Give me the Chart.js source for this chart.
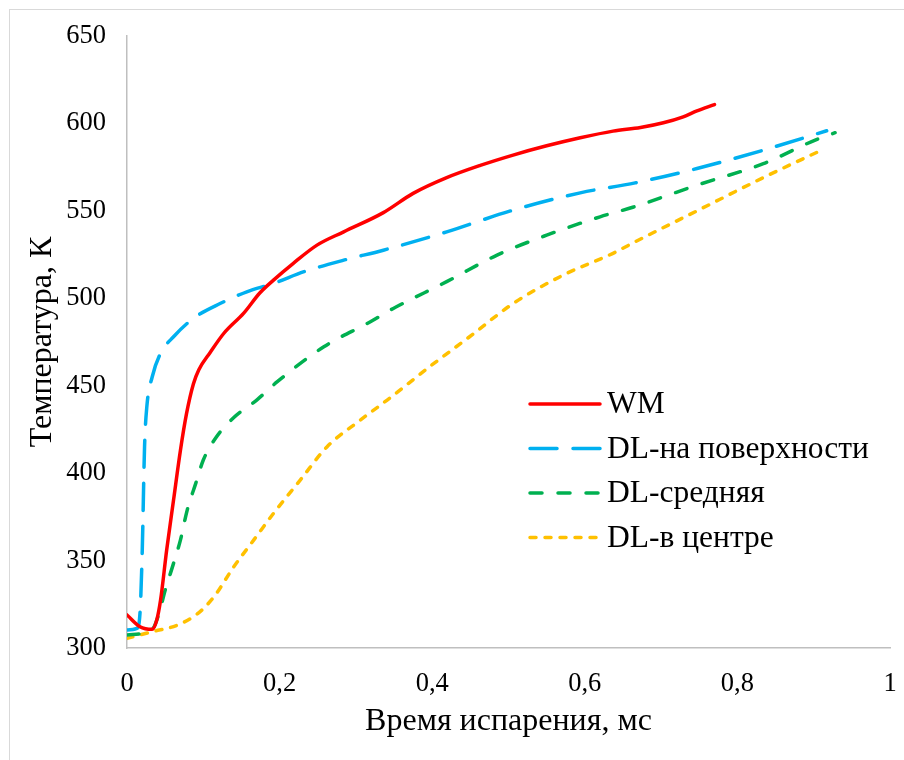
<!DOCTYPE html>
<html>
<head>
<meta charset="utf-8">
<script src="https://cdn.jsdelivr.net/npm/chart.js@4.4.1/dist/chart.umd.min.js"></script>
<style>
  html, body { margin: 0; padding: 0; background: #fff; overflow: hidden; }
  #frame { position: absolute; left: 9px; top: 9px; width: 1000px; height: 1000px; border: 1px solid #d9d9d9; }
  #chart { position: absolute; left: 0; top: 0; }
</style>
</head>
<body>
<div id="frame"></div>
<canvas id="chart" width="904" height="760"></canvas>
<script>
// values (time in ms, temperature in K)
const wmTime = [0, 0.017, 0.033, 0.039, 0.044, 0.052, 0.061, 0.070, 0.078, 0.087, 0.094, 0.109, 0.127, 0.153, 0.174, 0.192, 0.218, 0.249, 0.284, 0.336, 0.375, 0.419, 0.463, 0.506, 0.550, 0.594, 0.637, 0.673, 0.703, 0.729, 0.747, 0.770]
const wmTemp = [318.9, 312.2, 310.7, 316, 327.4, 356, 384.6, 413, 434, 451, 459, 469, 480, 491.5, 503, 510.4, 520, 530.4, 538, 549, 560, 569, 576, 581.9, 587.2, 591.8, 595.6, 597.7, 600.4, 603.8, 607.2, 610.8]

const surfTime = [0, 0.013, 0.017, 0.020, 0.023, 0.026, 0.033, 0.044, 0.061, 0.087, 0.122, 0.157, 0.192, 0.232, 0.284, 0.336, 0.419, 0.506, 0.594, 0.666, 0.747, 0.834, 0.917]
const surfTemp = [310.3, 311.2, 319.8, 356, 415, 438, 455, 468.5, 478, 488.5, 497, 503.7, 508.5, 515.2, 521.8, 527.5, 538, 550.4, 560.3, 566, 574.2, 584.7, 595.8]

const midTime = [0, 0.033, 0.042, 0.050, 0.061, 0.070, 0.079, 0.090, 0.100, 0.116, 0.140, 0.170, 0.197, 0.258, 0.319, 0.349, 0.419, 0.485, 0.550, 0.620, 0.664, 0.747, 0.834, 0.902, 0.928]
const midTemp = [307.4, 310.7, 319.8, 333, 348.4, 361.7, 379, 394, 407.5, 420, 431.8, 441.8, 452.3, 472.3, 486.6, 494.2, 509.5, 524.7, 536.1, 546.6, 552.2, 564.7, 577, 590.5, 594.7]

const centerTime = [0, 0.033, 0.066, 0.093, 0.114, 0.140, 0.166, 0.192, 0.227, 0.262, 0.306, 0.341, 0.400, 0.449, 0.506, 0.572, 0.637, 0.666, 0.747, 0.834, 0.912]
const centerTemp = [305.5, 309.3, 313.1, 319.8, 329.3, 346.5, 361.7, 377, 396, 415, 430.4, 441.8, 462, 478, 497, 513.3, 525.7, 532.3, 550, 569, 585.1]

const seriesNames = ["WM", "DL-на поверхности", "DL-средняя", "DL-в центре"]

const serif = "'Liberation Serif', 'Times New Roman', serif"

function points(xs, ys){
    return xs.map((x, i) => ({ x: x, y: ys[i] }))
}

// legend drawn inside the plot, like the original
const insideLegend = {
    id: "insideLegend",
    afterDraw(chart, args, opts){
        const ctx = chart.ctx
        ctx.save()
        ctx.font = opts.fontSize + "px " + serif
        ctx.textBaseline = "middle"
        ctx.fillStyle = "#000"
        chart.data.datasets.forEach((ds, i) => {
            const y = opts.top + i * opts.rowGap
            ctx.beginPath()
            ctx.strokeStyle = ds.borderColor
            ctx.lineWidth = ds.borderWidth
            ctx.lineCap = "round"
            ctx.setLineDash(ds.borderDash || [])
            ctx.moveTo(opts.left, y)
            ctx.lineTo(opts.left + opts.lineLength, y)
            ctx.stroke()
            ctx.setLineDash([])
            ctx.fillText(ds.label, opts.left + opts.lineLength + opts.textGap, y + 1)
        })
        ctx.restore()
    }
}

const common = { borderWidth: 3.5, pointRadius: 0, borderCapStyle: "round", cubicInterpolationMode: "monotone", fill: false }

const chart = new Chart(document.getElementById("chart").getContext("2d"), {
    type: "line",
    data: {
        datasets: [
            { ...common, label: seriesNames[0], data: points(wmTime, wmTemp), borderColor: "#ff0000" },
            { ...common, label: seriesNames[1], data: points(surfTime, surfTemp), borderColor: "#00b0f0", borderDash: [27, 16] },
            { ...common, label: seriesNames[2], data: points(midTime, midTemp), borderColor: "#00b050", borderDash: [12, 16] },
            { ...common, label: seriesNames[3], data: points(centerTime, centerTemp), borderColor: "#ffc000", borderDash: [6, 9] }
        ]
    },
    options: {
        responsive: false,
        animation: false,
        layout: { padding: { left: 0, right: 14, top: 36, bottom: 0 } },
        plugins: {
            legend: { display: false },
            tooltip: { enabled: false },
            insideLegend: { left: 530, top: 404, rowGap: 44.5, lineLength: 70, textGap: 7, fontSize: 31.5 }
        },
        scales: {
            x: {
                type: "linear",
                min: 0,
                max: 1,
                afterFit: s => { s.height = 112; s.paddingLeft = 0; s.paddingRight = 0 },
                grid: { display: false, drawTicks: false },
                border: { display: true, color: "#bfbfbf", width: 1.5 },
                ticks: {
                    stepSize: 0.2,
                    padding: 20,
                    maxRotation: 0,
                    color: "#000",
                    font: { family: serif, size: 26.5 },
                    callback: v => String(Math.round(v * 10) / 10).replace(".", ",")
                },
                title: { display: true, text: "Время испарения, мс", color: "#000", font: { family: serif, size: 32 }, padding: { top: 0, bottom: 19 } }
            },
            y: {
                min: 300,
                max: 650,
                afterFit: s => { s.width = 127; s.paddingTop = 0; s.paddingBottom = 0 },
                grid: { display: false, drawTicks: false },
                border: { display: true, color: "#bfbfbf", width: 1.5 },
                ticks: { stepSize: 50, padding: 21, color: "#000", font: { family: serif, size: 26.5 } },
                title: { display: true, text: "Температура, К", color: "#000", font: { family: serif, size: 32 }, padding: { top: 23, bottom: 0 } }
            }
        }
    },
    plugins: [insideLegend]
})
</script>
</body>
</html>
